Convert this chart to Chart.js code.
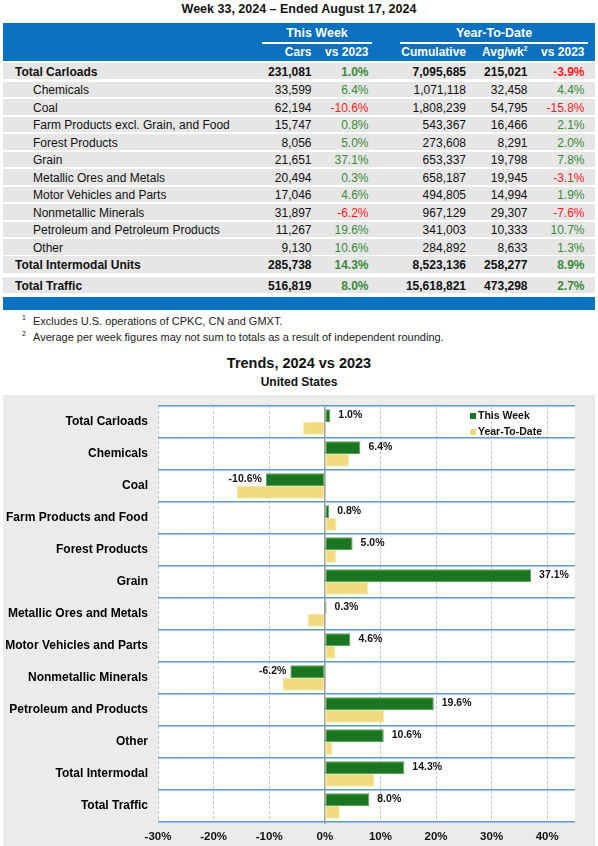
<!DOCTYPE html>
<html>
<head>
<meta charset="utf-8">
<script src="https://cdn.jsdelivr.net/npm/chart.js@4.4.1/dist/chart.umd.min.js"></script>
<style>
  html, body { margin: 0; padding: 0; background: #fff; }
  body { width: 598px; height: 846px; position: relative; overflow: hidden;
         font-family: "Liberation Sans", Arial, Helvetica, sans-serif; color: #111; }
  .abs { position: absolute; white-space: nowrap; }
  .title { left: 0; width: 598px; text-align: center; font-weight: bold; }
  .band { left: 3px; width: 592px; background: #0A70C0; }
  .hdr { color: #fff; font-weight: bold; font-size: 12.5px; }
  .uline { background: #fff; height: 2px; }
  .row { left: 3px; width: 592px; background: #E6E6E6; }
  .cell { font-size: 12px; line-height: 16px; }
  .num { text-align: right; }
  .b { font-weight: bold; }
  .pos { color: #3A8A3A; }
  .neg { color: #FF1A1A; }
  .foot { font-size: 11px; color: #222; }
  sup { font-size: 7px; }
  #chartWrap { position: absolute; left: 3px; top: 395px; width: 592px; height: 451px; background: #EBEBEB; }
</style>
</head>
<body>
<div id="page"></div>
<div id="chartWrap"><canvas id="c" width="592" height="451"></canvas></div>
<script>
// ---------- DATA ----------
const rowNames = ['Total Carloads','Chemicals','Coal','Farm Products excl. Grain, and Food','Forest Products','Grain','Metallic Ores and Metals','Motor Vehicles and Parts','Nonmetallic Minerals','Petroleum and Petroleum Products','Other','Total Intermodal Units','Total Traffic'];
const rowIsTotal = [true,false,false,false,false,false,false,false,false,false,false,true,true];
const cars = ['231,081','33,599','62,194','15,747','8,056','21,651','20,494','17,046','31,897','11,267','9,130','285,738','516,819'];
const cumulative = ['7,095,685','1,071,118','1,808,239','543,367','273,608','653,337','658,187','494,805','967,129','341,003','284,892','8,523,136','15,618,821'];
const avgWk = ['215,021','32,458','54,795','16,466','8,291','19,798','19,945','14,994','29,307','10,333','8,633','258,277','473,298'];

const categories = ['Total Carloads','Chemicals','Coal','Farm Products and Food','Forest Products','Grain','Metallic Ores and Metals','Motor Vehicles and Parts','Nonmetallic Minerals','Petroleum and Products','Other','Total Intermodal','Total Traffic'];
const thisWeek = [1.0, 6.4, -10.6, 0.8, 5.0, 37.1, 0.3, 4.6, -6.2, 19.6, 10.6, 14.3, 8.0];
const yearToDate = [-3.9, 4.4, -15.8, 2.1, 2.0, 7.8, -3.1, 1.9, -7.6, 10.7, 1.3, 8.9, 2.7];
const xTicks = [-30, -20, -10, 0, 10, 20, 30, 40];
const seriesNames = ['This Week', 'Year-To-Date'];

// ---------- TABLE (HTML) ----------
const page = document.getElementById('page');
function add(html) { page.insertAdjacentHTML('beforeend', html); }
function pct(v) { return v.toFixed(1) + '%'; }

add('<div class="abs title" style="top:2px;font-size:12.5px;">Week 33, 2024 \u2013 Ended August 17, 2024</div>');
add('<div class="abs band" style="top:23px;height:38px;"></div>');
add('<div class="abs hdr" style="left:262px;width:110px;text-align:center;top:26px;">This Week</div>');
add('<div class="abs hdr" style="left:400px;width:188px;text-align:center;top:26px;">Year-To-Date</div>');
add('<div class="abs uline" style="left:262px;width:110px;top:42px;"></div>');
add('<div class="abs uline" style="left:400px;width:188px;top:42px;"></div>');
const colRight = [311.5, 368.5, 466, 527.5, 584.5];
const subHdr = ['Cars', 'vs 2023', 'Cumulative', 'Avg/wk<sup>2</sup>', 'vs 2023'];
subHdr.forEach((t, i) => {
  add('<div class="abs hdr num" style="right:' + (598 - colRight[i]) + 'px;top:45px;font-size:12px;">' + t + '</div>');
});

const rowTops = [63, 81.5, 99, 116.5, 134, 151.5, 169, 186.5, 204, 221.5, 239, 256, 276.5];
const rowH = [16, 15.5, 15.5, 15.5, 15.5, 15.5, 15.5, 15.5, 15.5, 15.5, 15.5, 16.5, 16.5];
rowNames.forEach((name, i) => {
  const top = rowTops[i], h = rowH[i];
  const b = rowIsTotal[i] ? ' b' : '';
  const ty = top + (h - 16) / 2 + 1;
  add('<div class="abs row" style="top:' + top + 'px;height:' + h + 'px;"></div>');
  add('<div class="abs cell' + b + '" style="left:' + (rowIsTotal[i] ? 15 : 33) + 'px;top:' + ty + 'px;">' + name + '</div>');
  const vals = [cars[i], pct(thisWeek[i]), cumulative[i], avgWk[i], pct(yearToDate[i])];
  const raw = [null, thisWeek[i], null, null, yearToDate[i]];
  vals.forEach((v, j) => {
    let cls = 'abs cell num' + b;
    if (raw[j] !== null) cls += raw[j] < 0 ? ' neg' : ' pos';
    add('<div class="' + cls + '" style="right:' + (598 - colRight[j]) + 'px;top:' + ty + 'px;">' + v + '</div>');
  });
});
add('<div class="abs band" style="top:297px;height:13px;"></div>');
add('<div class="abs foot" style="left:22px;top:314px;font-size:7px;">1</div>');
add('<div class="abs foot" style="left:33px;top:315px;">Excludes U.S. operations of CPKC, CN and GMXT.</div>');
add('<div class="abs foot" style="left:22px;top:330px;font-size:7px;">2</div>');
add('<div class="abs foot" style="left:33px;top:331px;">Average per week figures may not sum to totals as a result of independent rounding.</div>');
add('<div class="abs title" style="top:355px;font-size:14.5px;">Trends, 2024 vs 2023</div>');
add('<div class="abs title" style="top:375px;font-size:12px;">United States</div>');

// ---------- CHART ----------
const FONT = "'Liberation Sans', Arial, Helvetica, sans-serif";
const GREEN = '#1B7622', YELLOW = '#F3D97E';

const bgPlugin = {
  id: 'bg',
  beforeDraw(chart) {
    const { ctx, chartArea: a } = chart;
    ctx.save();
    ctx.fillStyle = '#fff';
    ctx.fillRect(a.left, a.top, a.right - a.left, a.bottom - a.top);
    ctx.restore();
  },
  beforeDatasetsDraw(chart) {
    const { ctx, chartArea: a, scales } = chart;
    const x0 = scales.x.getPixelForValue(0);
    ctx.save();
    ctx.strokeStyle = '#9A9A9A';
    ctx.lineWidth = 1.5;
    ctx.beginPath();
    ctx.moveTo(x0, a.top);
    ctx.lineTo(x0, a.bottom + 2);
    ctx.stroke();
    ctx.restore();
  },
  afterDatasetsDraw(chart) {
    const { ctx, chartArea: a } = chart;
    const meta = chart.getDatasetMeta(0);
    ctx.save();
    ctx.font = 'bold 10.5px ' + FONT;
    ctx.fillStyle = '#111';
    ctx.textBaseline = 'middle';
    meta.data.forEach((el, i) => {
      const v = thisWeek[i];
      const t = v.toFixed(1) + '%';
      if (v >= 0) { ctx.textAlign = 'left'; ctx.fillText(t, el.x + 8, el.y); }
      else { ctx.textAlign = 'right'; ctx.fillText(t, el.x - 4, el.y); }
    });
    // legend
    const lx = a.right - 105, ly = a.top + 10;
    [GREEN, YELLOW].forEach((c, k) => {
      ctx.fillStyle = c;
      ctx.fillRect(lx, ly + k * 16 - 3, 6, 6);
      ctx.fillStyle = '#111';
      ctx.textAlign = 'left';
      ctx.fillText(chart.data.datasets[k].label, lx + 8, ly + k * 16);
    });
    ctx.restore();
  }
};

new Chart(document.getElementById('c'), {
  type: 'bar',
  data: {
    labels: categories,
    datasets: [
      { label: seriesNames[0], data: thisWeek, backgroundColor: GREEN, borderColor: '#5E9E5E', borderWidth: 1, borderSkipped: false,
        categoryPercentage: 0.8, barPercentage: 1.0 },
      { label: seriesNames[1], data: yearToDate, backgroundColor: YELLOW, borderColor: '#F6E6A8', borderWidth: 1, borderSkipped: false,
        categoryPercentage: 0.8, barPercentage: 1.0 }
    ]
  },
  options: {
    indexAxis: 'y',
    responsive: false,
    animation: false,
    devicePixelRatio: 1,
    layout: { padding: { left: 0, right: 20, top: 11, bottom: 0 } },
    plugins: { legend: { display: false }, tooltip: { enabled: false } },
    scales: {
      x: {
        min: -30, max: 45,
        ticks: { stepSize: 10, padding: 8, color: '#111', font: { family: FONT, size: 11.5, weight: 'bold' },
                 callback: v => v + '%' },
        afterBuildTicks: s => { s.ticks = s.ticks.filter(t => xTicks.includes(t.value)); },
        afterFit: s => { s.height = 24; s.paddingLeft = 0; s.paddingRight = 0; },
        grid: { color: c => (c.tick && c.tick.value === 0) ? 'rgba(0,0,0,0)' : '#C4C4C4', lineWidth: 1, drawTicks: false },
        border: { display: false, dash: [3, 2] }
      },
      y: {
        ticks: { padding: 10, color: '#000', font: { family: FONT, size: 12, weight: 'bold' } },
        afterFit: s => { s.width = 155; s.paddingTop = 0; s.paddingBottom = 0; },
        grid: { color: '#5B9BD5', lineWidth: 1.5, offset: true, drawTicks: false },
        border: { display: false }
      }
    }
  },
  plugins: [bgPlugin]
});
</script>
</body>
</html>
